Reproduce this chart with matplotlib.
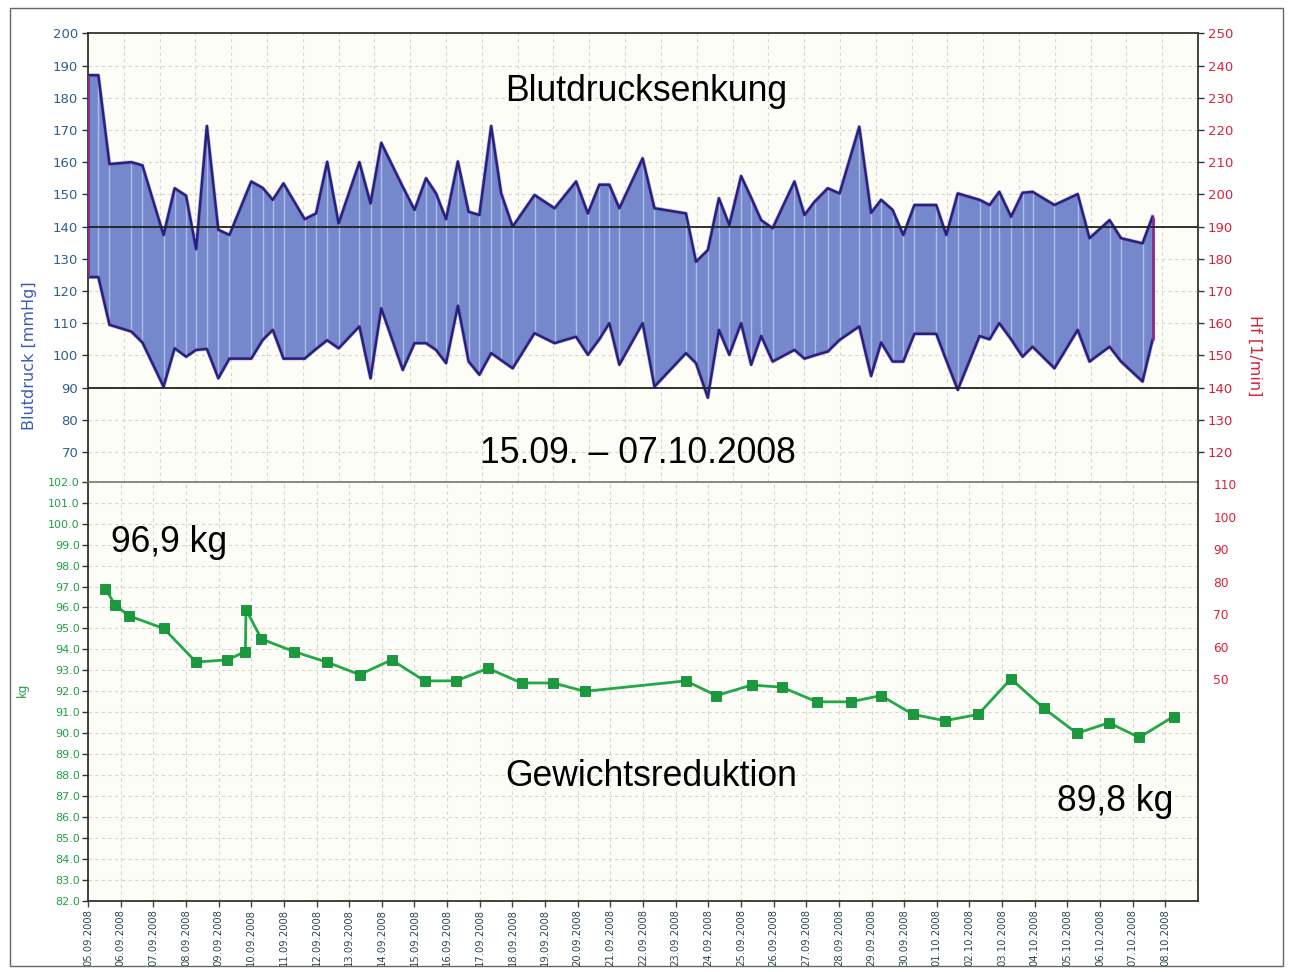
import matplotlib
matplotlib.use("Agg")
import matplotlib.pyplot as plt
import matplotlib.dates as mdates
from matplotlib.patches import Rectangle
import pandas as pd

# Blood pressure envelope (top chart, own time axis with 31 grid steps)
bp_t = [0.00, 0.29, 0.60, 1.21, 1.52, 2.11, 2.42, 2.74, 3.02, 3.32, 3.64, 3.95,
        4.56, 4.88, 5.16, 5.46, 6.05, 6.37, 6.68, 7.00, 7.58, 7.89, 8.19, 8.79,
        9.12, 9.44, 9.72, 10.00, 10.33, 10.63, 10.93, 11.26, 11.54, 11.86, 12.47,
        13.03, 13.63, 13.96, 14.28, 14.56, 14.84, 15.49, 15.82, 16.70, 16.98,
        17.31, 17.62, 17.91, 18.24, 18.52, 18.80, 19.12, 19.73, 20.01, 20.29,
        20.66, 20.99, 21.54, 21.87, 22.15, 22.47, 22.77, 23.08, 23.69, 23.97,
        24.29, 24.90, 25.18, 25.45, 25.78, 26.10, 26.38, 26.99, 27.64, 27.97,
        28.53, 28.85, 29.45, 29.73]
bp_sys = [187, 187, 159.4, 160, 159, 137.4, 151.9, 149.6, 133, 171.2, 139, 137.4,
          154, 152, 148.3, 153.4, 142.3, 144.1, 160.1, 141, 160, 147.2, 166, 152.4,
          145.2, 155, 150.3, 142.3, 160.2, 144.6, 143.6, 171.2, 150.3, 140, 149.8,
          145.7, 154, 144.1, 153, 153, 145.7, 161.2, 145.7, 144.1, 129.1,
          132.7, 148.8, 140.5, 155.7, 149, 142, 139.5, 154, 143.6, 147.7,
          151.9, 150.3, 171, 144.3, 148.3, 145.2, 137.4, 146.7, 146.7, 137.4,
          150.3, 148.3, 146.7, 150.8, 143.1, 150.5, 150.8, 146.7, 150.1, 136.4,
          142, 136.4, 134.8, 143.1]
bp_dia = [124.3, 124.3, 109.5, 107.4, 104, 90.3, 102.2, 99.6, 101.7, 102, 92.9, 99,
          99, 104.8, 107.9, 99, 99, 102, 104.7, 102.2, 109, 92.9, 114.6, 95.5,
          103.8, 103.8, 101.7, 97.6, 115.4, 98.1, 94, 100.7, 98.5, 96, 106.9,
          103.8, 105.8, 100.2, 105, 110, 97.1, 110, 90.3, 100.7, 97.6,
          86.9, 107.9, 100.2, 110, 97.1, 106, 98.1, 101.7, 99, 100,
          101.2, 104.8, 109, 93.6, 104, 98.1, 98.1, 106.7, 106.7, 98.5,
          89.3, 106, 105, 110, 105, 99.6, 102.7, 96, 107.9, 98.1,
          102.7, 98.1, 91.9, 104.8]

# Weight (bottom chart), days after 05.09.2008
w_day = [0.53, 0.84, 1.26, 2.32, 3.31, 4.27, 4.82, 4.84, 5.31, 6.30, 7.31, 8.32,
         9.30, 10.31, 11.28, 12.25, 13.28, 14.25, 15.22, 18.31, 19.25, 20.33,
         21.25, 22.33, 23.36, 24.29, 25.27, 26.25, 27.27, 28.27, 29.27, 30.29,
         31.27, 32.20, 33.25]
w_kg = [96.9, 96.1, 95.6, 95.0, 93.4, 93.5, 93.9, 95.9, 94.5, 93.9, 93.4, 92.8,
        93.5, 92.5, 92.5, 93.1, 92.4, 92.4, 92.0, 92.5, 91.8, 92.3,
        92.2, 91.5, 91.5, 91.8, 90.9, 90.6, 90.9, 92.6, 91.2, 90.0,
        90.5, 89.8, 90.8]

start = pd.Timestamp("2008-09-05")
end = pd.Timestamp("2008-10-09")
w_time = [start + pd.Timedelta(days=d) for d in w_day]

W, H = 1292, 972
bg = "#fdfdf7"
gridc = "#d6d6cc"
blue_tick = "#2f5f8f"
red = "#d8213c"
green = "#1fa043"
navy = "#1f2482"

fig = plt.figure(figsize=(W / 100, H / 100), dpi=100)
fig.patch.set_facecolor("white")

ax1 = fig.add_axes([88 / W, 1 - 481.7 / H, 1110 / W, 448.4 / H])
ax2 = fig.add_axes([88 / W, 1 - 901 / H, 1110 / W, 419.3 / H])

# ---- top chart
ax1.set_facecolor(bg)
ax1.set_xlim(0, 31)
ax1.set_ylim(60.8, 200)
ax1.fill_between(bp_t, bp_dia, bp_sys, color="#7588cb", lw=0, zorder=2)
ax1.vlines(bp_t, bp_dia, bp_sys, color="#aebde8", lw=1.0, zorder=2.5)
for ys in (bp_sys, bp_dia):
    ax1.plot(bp_t, ys, color="#9a2a86", lw=2.8, alpha=0.3, zorder=3)
    ax1.plot(bp_t, ys, color=navy, lw=1.8, zorder=4)
ax1.vlines([bp_t[0], bp_t[-1]], [bp_dia[0], bp_dia[-1]], [bp_sys[0], bp_sys[-1]],
           color="#8a2a8a", lw=2, zorder=4)
ax1.axhline(140, color="#222222", lw=1.3, zorder=5)
ax1.axhline(90, color="#222222", lw=1.3, zorder=5)

ax1.set_xticks(range(0, 32))
ax1.set_yticks(range(70, 201, 10))
ax1.tick_params(axis="x", length=0, labelbottom=False)
ax1.tick_params(axis="y", length=4, width=1, color="#333333", labelsize=9.5,
                labelcolor=blue_tick, pad=3)
ax1.grid(True, color=gridc, lw=0.8, ls=(0, (3, 3)), zorder=1)
ax1.set_axisbelow(True)
for s in ("left", "top"):
    ax1.spines[s].set_color("#333333")
    ax1.spines[s].set_linewidth(1.3)
ax1.spines["bottom"].set_visible(False)
ax1.spines["right"].set_visible(False)

ax1r = ax1.twinx()
ax1r.set_ylim(110.8, 250)
ax1r.set_yticks(range(120, 251, 10))
ax1r.tick_params(axis="y", length=4, width=1, color="#333333", labelsize=9.5,
                 labelcolor=red, pad=3)
ax1r.spines["right"].set_color("#333333")
ax1r.spines["right"].set_linewidth(1.3)
for s in ("left", "top", "bottom"):
    ax1r.spines[s].set_visible(False)

ax1.text(0.503, 0.871, "Blutdrucksenkung", transform=ax1.transAxes,
         ha="center", va="center", fontsize=25.6, family="Liberation Sans", zorder=6)
ax1.text(0.495, 0.062, "15.09. \u2013 07.10.2008", transform=ax1.transAxes,
         ha="center", va="center", fontsize=25.6, family="Liberation Sans", zorder=6)

fig.text(30 / W, 1 - 356 / H, "Blutdruck [mmHg]", rotation=90, ha="center",
         va="center", fontsize=11.5, color="#3a5db5")
fig.text(1255 / W, 1 - 356 / H, "Hf [1/min]", rotation=270, ha="center",
         va="center", fontsize=11.5, color=red)

# ---- bottom chart
ax2.set_facecolor(bg)
ax2.set_xlim(start, end)
ax2.set_ylim(82, 102)
ax2.plot(w_time, w_kg, color="#22a845", lw=2, marker="s", ms=6.5,
         mfc="#1a9a3c", mec="#168a35", mew=0.6, zorder=4)
ax2.xaxis.set_major_formatter(mdates.DateFormatter("%d.%m.%Y"))
ax2.set_xticks(pd.date_range(start, "2008-10-08"))
ax2.set_yticks([82 + i for i in range(21)])
ax2.yaxis.set_major_formatter(matplotlib.ticker.FormatStrFormatter("%.1f"))
ax2.tick_params(axis="x", length=4, width=1, color="#444444", labelsize=7.2,
                labelcolor="#2b4650", rotation=90, pad=2)
ax2.tick_params(axis="y", length=4, width=1, color="#333333", labelsize=8,
                labelcolor=green, pad=2)
ax2.grid(True, color=gridc, lw=0.8, ls=(0, (3, 3)), zorder=1)
ax2.set_axisbelow(True)
for s in ("left", "bottom"):
    ax2.spines[s].set_color("#333333")
    ax2.spines[s].set_linewidth(1.3)
ax2.spines["top"].set_color("#777777")
ax2.spines["top"].set_linewidth(1.2)
ax2.spines["right"].set_visible(False)

ax2r = ax2.twinx()
ax2r.set_ylim(-18, 110.7)
ax2r.set_yticks(range(50, 111, 10))
ax2r.tick_params(axis="y", length=0, labelsize=8.8, labelcolor=red, pad=11)
ax2r.spines["right"].set_color("#333333")
ax2r.spines["right"].set_linewidth(1.3)
for s in ("left", "top", "bottom"):
    ax2r.spines[s].set_visible(False)

ax2.text(0.073, 0.856, "96,9 kg", transform=ax2.transAxes, ha="center",
         va="center", fontsize=25.6, family="Liberation Sans", zorder=6)
ax2.text(0.507, 0.296, "Gewichtsreduktion", transform=ax2.transAxes, ha="center",
         va="center", fontsize=25.6, family="Liberation Sans", zorder=6)
ax2.text(0.925, 0.238, "89,8 kg", transform=ax2.transAxes, ha="center",
         va="center", fontsize=25.6, family="Liberation Sans", zorder=6)

fig.text(22 / W, 1 - 690 / H, "kg", rotation=90, ha="center", va="center",
         fontsize=8.5, color=green)

fig.patches.append(Rectangle((10 / W, 1 - 966 / H), 1273 / W, 958 / H,
                             transform=fig.transFigure, fill=False,
                             ec="#666666", lw=1))

fig.savefig("out.png", dpi=100)
